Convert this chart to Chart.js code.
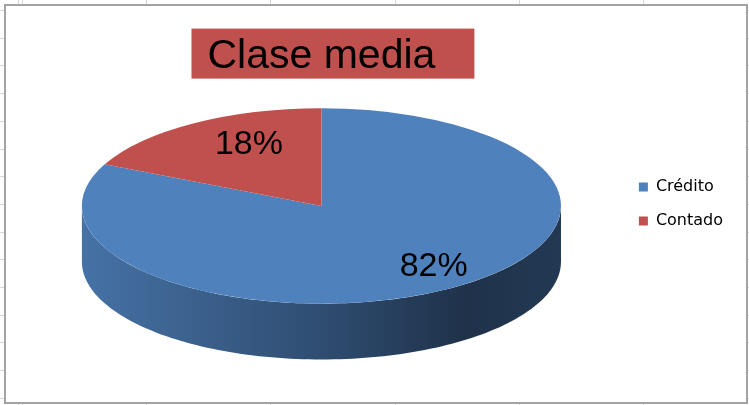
<!DOCTYPE html>
<html>
<head>
<meta charset="utf-8">
<script src="https://cdn.jsdelivr.net/npm/chart.js@4"></script>
<style>
  html, body { margin: 0; padding: 0; width: 749px; height: 405px; overflow: hidden; }
  body {
    position: relative;
    background-color: #ffffff;
    background-image:
      repeating-linear-gradient(to right, #d6d6d6 0, #d6d6d6 1px, transparent 1px, transparent 124.2px),
      repeating-linear-gradient(to bottom, #d6d6d6 0, #d6d6d6 1px, transparent 1px, transparent 27.7px);
    background-position: 22px 0, 0 10px;
  }
  #frame {
    position: absolute; left: 4px; top: 4px; width: 744px; height: 400px;
    box-sizing: border-box; border: 2px solid #a3a3a3; background: #ffffff;
  }
  #c { position: absolute; left: 0; top: 0; }
</style>
</head>
<body>
<div id="frame"></div>
<canvas id="c" width="749" height="405"></canvas>
<script>
const chartTitle = 'Clase media';
const categories = ['Crédito', 'Contado'];
const shareValues = [82, 18];
const seriesColors = ['#4F81BD', '#C0504D'];

function shade(hex, f) {
  const n = parseInt(hex.slice(1), 16);
  const r = Math.round(((n >> 16) & 255) * f);
  const g = Math.round(((n >> 8) & 255) * f);
  const b = Math.round((n & 255) * f);
  return 'rgb(' + r + ',' + g + ',' + b + ')';
}

function pieGeom(chart) {
  const meta = chart.getDatasetMeta(0);
  const a = meta.data[0];
  const ca = chart.chartArea;
  const R = a.outerRadius;
  const rx = ca.width / 2 * 0.8;
  const ry = rx * 0.408;
  const depth = rx * 0.233;
  return { meta, R, rx, ry, depth, cx: a.x, cy: ca.top + ry, ox: a.x, oy: a.y };
}

const titleBoxPlugin = {
  id: 'titleBox',
  beforeDraw(chart) {
    const tb = chart.titleBlock;
    if (!tb) return;
    const ctx = chart.ctx;
    const opts = chart.options.plugins.title;
    const font = Chart.helpers.toFont(opts.font);
    ctx.save();
    ctx.font = font.string;
    const w = ctx.measureText(opts.text).width;
    const tx = (tb.left + tb.right) / 2;
    const ty = tb.top + opts.padding.top + font.lineHeight / 2;
    ctx.fillStyle = '#C0504D';
    ctx.fillRect(tx - w / 2 - 16, ty - 28, w + 55, 50);
    ctx.restore();
  }
};

const pie3dPlugin = {
  id: 'pie3d',
  beforeDatasetsDraw(chart) {
    const g = pieGeom(chart);
    const ctx = chart.ctx;
    g.meta.data.forEach((arc, i) => {
      const col = seriesColors[i];
      for (let k = -1; k <= 1; k++) {
        const a0 = Math.max(arc.startAngle, 2 * Math.PI * k);
        const b0 = Math.min(arc.endAngle, 2 * Math.PI * k + Math.PI);
        if (b0 <= a0) continue;
        const steps = 120;
        ctx.save();
        ctx.beginPath();
        for (let s = 0; s <= steps; s++) {
          const t = a0 + (b0 - a0) * s / steps;
          const x = g.cx + g.rx * Math.cos(t), y = g.cy + g.ry * Math.sin(t);
          if (s === 0) ctx.moveTo(x, y); else ctx.lineTo(x, y);
        }
        for (let s = steps; s >= 0; s--) {
          const t = a0 + (b0 - a0) * s / steps;
          ctx.lineTo(g.cx + g.rx * Math.cos(t), g.cy + g.depth + g.ry * Math.sin(t));
        }
        ctx.closePath();
        const grad = ctx.createLinearGradient(g.cx - g.rx, 0, g.cx + g.rx, 0);
        grad.addColorStop(0, shade(col, 0.88));
        grad.addColorStop(0.5, shade(col, 0.6));
        grad.addColorStop(0.8, shade(col, 0.39));
        grad.addColorStop(1, shade(col, 0.44));
        ctx.fillStyle = grad;
        ctx.fill();
        ctx.restore();
      }
    });
    ctx.save();
    ctx.translate(g.cx, g.cy);
    ctx.scale(g.rx / g.R, g.ry / g.R);
    ctx.translate(-g.ox, -g.oy);
  },
  afterDatasetsDraw(chart) {
    const ctx = chart.ctx;
    ctx.restore();
    const g = pieGeom(chart);
    const data = chart.data.datasets[0].data;
    const total = data.reduce((s, v) => s + v, 0);
    ctx.save();
    ctx.font = '34px "Liberation Sans", Arial, sans-serif';
    ctx.fillStyle = '#000000';
    ctx.textAlign = 'center';
    ctx.textBaseline = 'middle';
    g.meta.data.forEach((arc, i) => {
      const mid = (arc.startAngle + arc.endAngle) / 2;
      // small horizontal nudge imitating the perspective of the original 3-D view
      const x = g.cx + g.rx * 0.72 * Math.cos(mid) + g.rx * 0.083;
      const y = g.cy + g.ry * 0.74 * Math.sin(mid);
      ctx.fillText(Math.round(data[i] / total * 100) + '%', x, y);
    });
    ctx.restore();
  }
};

new Chart(document.getElementById('c'), {
  type: 'pie',
  data: {
    labels: categories,
    datasets: [{
      data: shareValues,
      backgroundColor: seriesColors,
      borderWidth: 0,
      clip: false
    }]
  },
  options: {
    responsive: false,
    devicePixelRatio: 1,
    animation: false,
    events: [],
    layout: { padding: { left: 22, right: 16, top: 3, bottom: 0 } },
    plugins: {
      title: {
        display: true,
        text: chartTitle,
        fullSize: false,
        color: '#000000',
        font: { family: '"Liberation Sans", Arial, sans-serif', size: 41, weight: 'normal', lineHeight: 1.2 },
        padding: { top: 29, bottom: 27 }
      },
      legend: {
        position: 'right',
        labels: {
          boxWidth: 9,
          boxHeight: 9,
          padding: 18,
          color: '#000000',
          font: { family: '"DejaVu Sans", Verdana, sans-serif', size: 16 }
        }
      },
      tooltip: { enabled: false }
    }
  },
  plugins: [titleBoxPlugin, pie3dPlugin]
});
</script>
</body>
</html>
